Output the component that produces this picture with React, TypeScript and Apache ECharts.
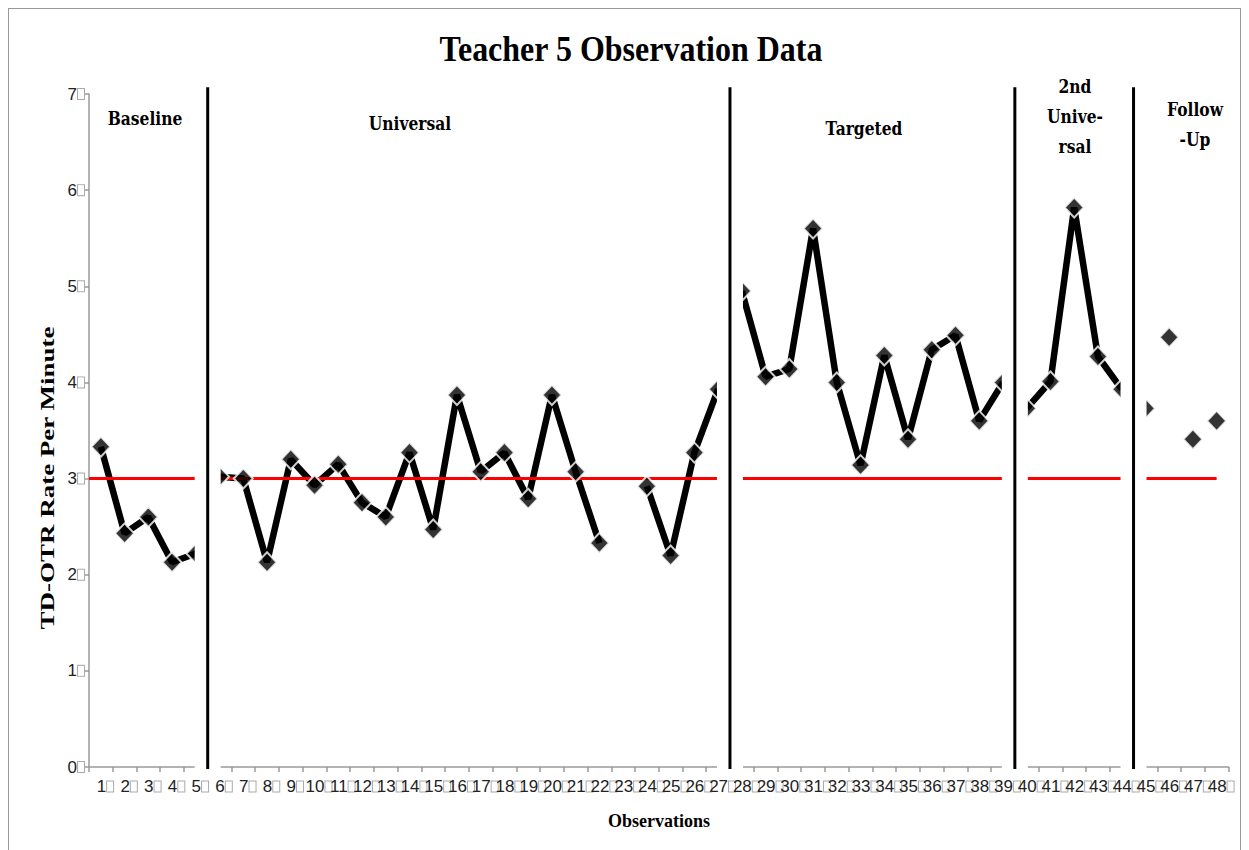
import React, { useEffect, useRef } from "react";
import * as echarts from "echarts";

const observations = [
  "1", "2", "3", "4", "5", "6", "7", "8", "9", "10", "11", "12",
  "13", "14", "15", "16", "17", "18", "19", "20", "21", "22", "23", "24",
  "25", "26", "27", "28", "29", "30", "31", "32", "33", "34", "35", "36",
  "37", "38", "39", "40", "41", "42", "43", "44", "45", "46", "47", "48",
];
const baseline = [3.33, 2.43, 2.6, 2.13, 2.22];
const universal = [
  3.02, 3.0, 2.13, 3.2, 2.93, 3.15, 2.75, 2.6, 3.27, 2.47, 3.87, 3.07,
  3.27, 2.79, 3.87, 3.07, 2.33, null, 2.92, 2.2, 3.27, 3.93,
];
const targeted = [4.95, 4.06, 4.14, 5.6, 4.0, 3.14, 4.28, 3.41, 4.34, 4.49, 3.6, 4.0];
const secondUniversal = [3.73, 4.01, 5.82, 4.27, 3.93];
const followUp = [3.73, 4.47, 3.41, 3.6];
const criterion = 3;
const yMin = 0;
const yMax = 7;
const phaseLabels = ["Baseline", "Universal", "Targeted", "2nd\nUnive-\nrsal", "Follow\n-Up"];

const phases = [
  { values: baseline, connected: true },
  { values: universal, connected: true },
  { values: targeted, connected: true },
  { values: secondUniversal, connected: true },
  { values: followUp, connected: false },
];

const SANS = "'Liberation Sans Narrow', 'Arial Narrow', 'Liberation Sans', Arial, sans-serif";
const SANS_REG = "'Liberation Sans', Arial, sans-serif";
const SERIF = "'Liberation Serif', 'Times New Roman', serif";
const PHASE_SERIF = "'DejaVu Serif', 'Liberation Serif', serif";

export default function App() {
  const ref = useRef<HTMLDivElement>(null);

  useEffect(() => {
    if (!ref.current) return;
    const chart = echarts.init(ref.current, undefined, { renderer: "svg" });

    const series: any[] = [];
    const markerData: any[] = observations.map(() => null);
    const boundaries: number[] = [];
    let offset = 0;
    phases.forEach((p, i) => {
      const data = observations.map((_, k) =>
        k >= offset && k < offset + p.values.length ? p.values[k - offset] : "-"
      );
      p.values.forEach((v, j) => {
        markerData[offset + j] = v;
      });
      if (p.connected) {
        series.push({
          type: "line",
          data,
          symbol: "none",
          connectNulls: false,
          lineStyle: { color: "#000", width: 6.5 },
          z: 2,
          silent: true,
        });
      }
      offset += p.values.length;
      if (i < phases.length - 1) boundaries.push(offset);
    });

    // criterion line
    series.push({
      type: "line",
      xAxisIndex: 1,
      data: [
        [0, criterion],
        [observations.length - 0.5, criterion],
      ],
      symbol: "none",
      lineStyle: { color: "#ff0000", width: 3 },
      z: 3,
      silent: true,
    });

    // markers
    series.push({
      type: "scatter",
      data: markerData.map((v) => (v === null ? "-" : v)),
      symbol: "diamond",
      symbolSize: [19, 20],
      itemStyle: { color: "#000", borderColor: "#fff", borderWidth: 2 },
      z: 4,
      silent: true,
    });

    // phase change lines with white band
    boundaries.forEach((b) => {
      series.push({
        type: "line",
        xAxisIndex: 1,
        data: [
          [b, -0.12],
          [b, 7.1],
        ],
        symbol: "none",
        clip: false,
        lineStyle: { color: "#fff", width: 26, cap: "butt" },
        z: 5,
        silent: true,
      });
      series.push({
        type: "line",
        xAxisIndex: 1,
        data: [
          [b, -0.02],
          [b, 7.07],
        ],
        symbol: "none",
        clip: false,
        lineStyle: { color: "#000", width: 3, cap: "butt" },
        z: 6,
        silent: true,
      });
    });

    const phaseLabelPos = [
      [136, 109.5],
      [401, 114.5],
      [855, 119],
      [1066, 107],
      [1186, 115],
    ];

    const graphic: any[] = [
      {
        type: "text",
        x: 622,
        y: 39,
        scaleY: 1.15,
        z: 10,
        style: {
          text: "Teacher 5 Observation Data",
          fontFamily: SERIF,
          fontWeight: "bold",
          fontSize: 32,
          fill: "#000",
          align: "center",
          verticalAlign: "middle",
        },
      },
      {
        type: "text",
        x: 38,
        y: 469,
        rotation: Math.PI / 2,
        scaleX: 1.42,
        z: 10,
        style: {
          text: "TD-OTR Rate Per Minute",
          fontFamily: SERIF,
          fontWeight: "bold",
          fontSize: 19,
          fill: "#000",
          align: "center",
          verticalAlign: "middle",
        },
      },
      {
        type: "text",
        x: 650,
        y: 811,
        scaleY: 1.1,
        z: 10,
        style: {
          text: "Observations",
          fontFamily: SERIF,
          fontWeight: "bold",
          fontSize: 18,
          fill: "#000",
          align: "center",
          verticalAlign: "middle",
        },
      },
      ...phaseLabels.map((t, i) => ({
        type: "text",
        x: phaseLabelPos[i][0],
        y: phaseLabelPos[i][1],
        scaleY: 1.2,
        z: 10,
        style: {
          text: t,
          fontFamily: PHASE_SERIF,
          fontWeight: "bold",
          fontSize: 15.5,
          lineHeight: 25,
          fill: "#000",
          align: "center",
          verticalAlign: "middle",
        },
      })),
    ];

    const box = {
      width: 6,
      height: 10,
      fontSize: 8,
      borderColor: "#aaa",
      borderWidth: 1,
      backgroundColor: "#fff",
    };

    chart.setOption({
      animation: false,
      backgroundColor: "#fff",
      grid: { left: 80, right: 11.5, top: 85, bottom: 90, containLabel: false },
      xAxis: [
        {
          type: "category",
          data: observations,
          boundaryGap: true,
          axisLine: { show: true, lineStyle: { color: "#9a9a9a", width: 1.5 } },
          axisTick: { show: true, length: 5, lineStyle: { color: "#9a9a9a", width: 1.5 } },
          splitLine: { show: false },
          axisLabel: {
            interval: 0,
            margin: 11,
            fontSize: 17,
            fontFamily: SANS,
            color: "#222",
            formatter: (v: string) => `{s| }{n|${v}}{g| }{b| }`,
            rich: {
              s: { width: 8, fontSize: 8 },
              g: { width: 1, fontSize: 8 },
              n: { fontSize: 17, fontFamily: SANS, color: "#222" },
              b: box,
            },
          },
        },
        { type: "value", min: 0, max: observations.length, show: false },
      ],
      yAxis: {
        type: "value",
        min: yMin,
        max: yMax,
        interval: 1,
        axisLine: { show: true, lineStyle: { color: "#9a9a9a", width: 1.5 } },
        axisTick: { show: true, length: 4, lineStyle: { color: "#9a9a9a", width: 1.5 } },
        splitLine: { show: false },
        axisLabel: {
          margin: 5,
          fontSize: 17,
          fontFamily: SANS_REG,
          color: "#222",
          formatter: (v: number) => `{n|${v}}{g| }{b| }`,
          rich: {
            n: { fontSize: 17, fontFamily: SANS_REG, color: "#222" },
            g: { width: 1, fontSize: 8 },
            b: box,
          },
        },
      },
      series,
      graphic,
    });

    return () => chart.dispose();
  }, []);

  return (
    <div
      style={{
        width: 1233,
        height: 850,
        border: "1px solid #999",
        boxSizing: "border-box",
        background: "#fff",
      }}
    >
      <div ref={ref} style={{ width: 1231, height: 848 }} />
    </div>
  );
}
